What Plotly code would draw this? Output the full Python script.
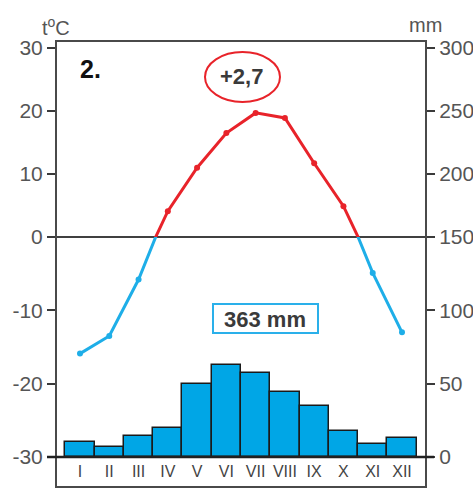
import plotly.graph_objects as go

months = ["I", "II", "III", "IV", "V", "VI", "VII", "VIII", "IX", "X", "XI", "XII"]
temperature = [-15.9, -13.5, -5.8, 4.1, 11.0, 16.5, 19.7, 18.9, 11.7, 4.9, -4.9, -13.0]
precipitation = [10, 7, 14, 20, 50, 63, 57, 44, 35, 18, 9, 13]
temp_ticks_upper = [0, 10, 20, 30]
temp_ticks_lower = [-30, -20, -10]
precip_ticks_upper = [150, 200, 250, 300]
precip_ticks_lower = [0, 50, 100]
mean_temp_label = "+2,7"
total_precip_label = "363 mm"
panel_label = "2."

W, H = 473, 488
ML, MR, MT, MB = 56, 47, 41, 1
PW, PH = W - ML - MR, H - MT - MB


def px(x):
    return (x - ML) / PW


def py(y):
    return (H - MB - y) / PH


LOW = [py(457), py(237)]
UP = [py(237), py(48)]

RED = "#e8232a"
BLUE = "#1eaee8"
BAR = "#00a6e6"
GRAY = "#555555"
DARK = "#3a3a3a"
FAM = "Liberation Sans Narrow, Liberation Sans, Arial"
TICKFONT = dict(family=FAM, size=21, color=GRAY)

fig = go.Figure()

fig.add_trace(go.Bar(
    x=months, y=precipitation, xaxis="x", yaxis="y3",
    width=1.0, marker=dict(color=BAR, line=dict(color="#1a1a1a", width=1.5)),
    showlegend=False, hoverinfo="skip",
))
# same precipitation series on the upper right scale (150-300 mm): lies below its range,
# so nothing shows, but it makes the upper right axis draw its ticks
fig.add_trace(go.Scatter(
    x=months, y=precipitation, xaxis="x", yaxis="y4",
    mode="markers", marker=dict(opacity=0), showlegend=False, hoverinfo="skip",
))
fig.add_trace(go.Scatter(
    x=months, y=temperature, xaxis="x", yaxis="y",
    mode="lines+markers", line=dict(color=BLUE, width=3),
    marker=dict(color=BLUE, size=6), showlegend=False, cliponaxis=True,
))
fig.add_trace(go.Scatter(
    x=months, y=temperature, xaxis="x", yaxis="y2",
    mode="lines+markers", line=dict(color=RED, width=3),
    marker=dict(color=RED, size=6), showlegend=False, cliponaxis=True,
))

common_y = dict(showgrid=False, zeroline=False, showline=False, ticks="outside",
                ticklen=8, tickwidth=2, tickcolor=DARK, tickfont=TICKFONT,
                automargin=False, fixedrange=True)


def labels(vals):
    return [str(v) for v in vals]


fig.update_layout(
    width=W, height=H, template="none",
    margin=dict(l=ML, r=MR, t=MT, b=MB),
    paper_bgcolor="white", plot_bgcolor="white",
    bargap=0,
    xaxis=dict(domain=[0, 1], anchor="y", range=[-0.82, 11.82], showgrid=False,
               zeroline=False, showline=False, ticks="",
               tickfont=dict(family=FAM, size=16, color="#444"),
               ticklabelstandoff=3, automargin=False, fixedrange=True),
    yaxis=dict(domain=LOW, range=[-30, 0], tickvals=temp_ticks_lower, ticktext=labels(temp_ticks_lower),
               anchor="x", side="left", **common_y),
    yaxis2=dict(domain=UP, range=[0, 30], tickvals=temp_ticks_upper, ticktext=labels(temp_ticks_upper),
                anchor="x", side="left", **common_y),
    yaxis3=dict(overlaying="y", range=[0, 150], tickvals=precip_ticks_lower, ticktext=labels(precip_ticks_lower),
                anchor="x", side="right", **common_y),
    yaxis4=dict(overlaying="y2", range=[150, 300], tickvals=precip_ticks_upper, ticktext=labels(precip_ticks_upper),
                anchor="x", side="right", **common_y),
)

# frame
fig.add_shape(type="rect", xref="paper", yref="paper", x0=0, x1=1, y0=0, y1=1,
              line=dict(color="#4a4a4a", width=2), layer="above")
# zero line (0 °C) and base line (0 mm)
fig.add_shape(type="line", xref="paper", yref="paper", x0=px(48), x1=px(434), y0=UP[0], y1=UP[0],
              line=dict(color="#404040", width=2), layer="below")
fig.add_shape(type="line", xref="paper", yref="paper", x0=px(47), x1=px(434), y0=LOW[0], y1=LOW[0],
              line=dict(color="#202020", width=2.5), layer="above")
# ellipse around mean temperature
fig.add_shape(type="circle", xref="paper", yref="paper", x0=px(205), x1=px(280), y0=py(102), y1=py(52),
              line=dict(color=RED, width=2))
# box around the precipitation total
fig.add_shape(type="rect", xref="paper", yref="paper", x0=px(213), x1=px(318), y0=py(333), y1=py(304),
              line=dict(color="#2ab0ea", width=2), fillcolor="white", layer="above")

ann = dict(xref="paper", yref="paper", showarrow=False, xanchor="center", yanchor="middle")
fig.add_annotation(text=f"<b>{panel_label}</b>", x=px(90), y=py(69),
                   font=dict(family="Liberation Sans, Arial", size=25, color="#111"), **ann)
fig.add_annotation(text=f"<b>{mean_temp_label}</b>", x=px(241), y=py(76),
                   font=dict(family="Liberation Sans, Arial", size=22, color="#3a3a3a"), **ann)
fig.add_annotation(text=f"<b>{total_precip_label}</b>", x=px(265), y=py(319),
                   font=dict(family="Liberation Sans, Arial", size=22, color="#3a3a3a"), **ann)
fig.add_annotation(text="t<sup>o</sup>C", x=px(56), y=py(26),
                   font=dict(family=FAM, size=20, color=GRAY), **ann)
fig.add_annotation(text="mm", x=px(425), y=py(25),
                   font=dict(family=FAM, size=20, color=GRAY), **ann)

fig.write_html("out.html", config={"displayModeBar": False},
               post_script="document.body.style.margin='0';document.body.style.overflow='hidden';")
